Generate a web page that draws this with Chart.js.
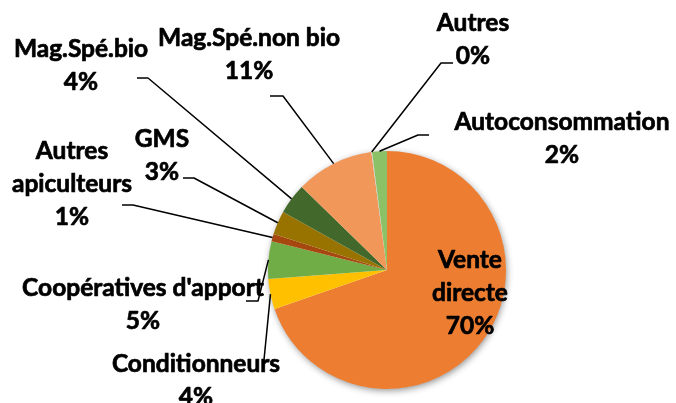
<!DOCTYPE html>
<html>
<head>
<meta charset="utf-8">
<script src="https://cdn.jsdelivr.net/npm/chart.js@4.4.1/dist/chart.umd.min.js"></script>
<style>
  html, body { margin: 0; padding: 0; background: #fff; }
  #wrap { width: 676px; height: 403px; position: relative; }
</style>
</head>
<body>
<div id="wrap"><canvas id="chartCanvas" width="676" height="403"></canvas></div>
<script>
// slices, clockwise from 12 o'clock
const categories = ['Vente directe', 'Conditionneurs', "Coopératives d'apport", 'Autres apiculteurs',
  'GMS', 'Mag.Spé.bio', 'Mag.Spé.non bio', 'Autres', 'Autoconsommation'];
const shares = [69.7, 4.1, 5.1, 1.0, 3.2, 4.2, 10.6, 0.1, 2.0];
const sliceColors = ['#ED7D31', '#FFC000', '#70AD47', '#A5470F', '#997300', '#43682B', '#F1975A', '#C9C9C9', '#8CC168'];

// label placement: text centre x, first line y, leader elbow / end (null = inside slice)
const labelLayout = [
  { x: 470, y: 260, wrap: true, elbow: null, end: null },
  { x: 196, y: 364, wrap: false, elbow: [263, 370], end: [263, 370] },
  { x: 143, y: 288, wrap: false, elbow: [258, 301], end: [246, 301] },
  { x: 72, y: 151, wrap: true, elbow: [133, 205], end: [122, 205] },
  { x: 162, y: 139, wrap: false, elbow: [194, 178], end: [183, 178] },
  { x: 81, y: 49, wrap: false, elbow: [148, 78], end: [137, 78] },
  { x: 249, y: 38, wrap: false, elbow: [283, 96], end: [270, 96] },
  { x: 473, y: 23, wrap: false, elbow: [441, 63], end: [453, 63] },
  { x: 562, y: 122, wrap: false, elbow: [418, 135], end: [429, 135] }
];

const total = shares.reduce((a, b) => a + b, 0);
const LINE_H = 33;

const pieShadow = {
  id: 'pieShadow',
  beforeDatasetsDraw(chart) {
    const arc = chart.getDatasetMeta(0).data[0];
    if (!arc) return;
    const { x, y, outerRadius } = arc.getProps(['x', 'y', 'outerRadius'], true);
    const c = chart.ctx;
    c.save();
    c.shadowColor = 'rgba(0,0,0,0.45)';
    c.shadowBlur = 7;
    c.shadowOffsetX = 1;
    c.shadowOffsetY = 2;
    c.fillStyle = '#ffffff';
    c.beginPath();
    c.arc(x, y, outerRadius - 0.5, 0, Math.PI * 2);
    c.fill();
    c.restore();
  }
};

const pieLabels = {
  id: 'pieLabels',
  afterDatasetsDraw(chart) {
    const c = chart.ctx;
    const meta = chart.getDatasetMeta(0);
    c.save();
    c.font = 'bold 24.5px Lato';
    c.fillStyle = '#000';
    c.textAlign = 'center';
    c.textBaseline = 'middle';
    c.strokeStyle = '#000';
    c.lineJoin = 'round';
    meta.data.forEach((arc, i) => {
      const lay = labelLayout[i];
      const p = arc.getProps(['x', 'y', 'startAngle', 'endAngle', 'outerRadius'], true);
      if (lay.elbow) {
        const mid = (p.startAngle + p.endAngle) / 2;
        const px = p.x + Math.cos(mid) * p.outerRadius;
        const py = p.y + Math.sin(mid) * p.outerRadius;
        c.lineWidth = 1.5;
        c.beginPath();
        c.moveTo(px, py);
        c.lineTo(lay.elbow[0], lay.elbow[1]);
        c.lineTo(lay.end[0], lay.end[1]);
        c.stroke();
      }
      const pct = Math.round(shares[i] / total * 100) + '%';
      const lines = lay.wrap ? categories[i].split(' ') : [categories[i]];
      lines.push(pct);
      c.lineWidth = 0.7;
      lines.forEach((t, k) => {
        c.fillText(t, lay.x, lay.y + k * LINE_H);
        c.strokeText(t, lay.x, lay.y + k * LINE_H);
      });
    });
    c.restore();
  }
};

new Chart(document.getElementById('chartCanvas').getContext('2d'), {
  type: 'pie',
  data: {
    labels: categories,
    datasets: [{
      data: shares,
      backgroundColor: sliceColors,
      borderWidth: 0
    }]
  },
  options: {
    responsive: false,
    animation: false,
    layout: { padding: { left: 268, right: 170, top: 151, bottom: 14 } },
    plugins: {
      legend: { display: false },
      tooltip: { enabled: false }
    }
  },
  plugins: [pieShadow, pieLabels]
});
</script>
</body>
</html>
